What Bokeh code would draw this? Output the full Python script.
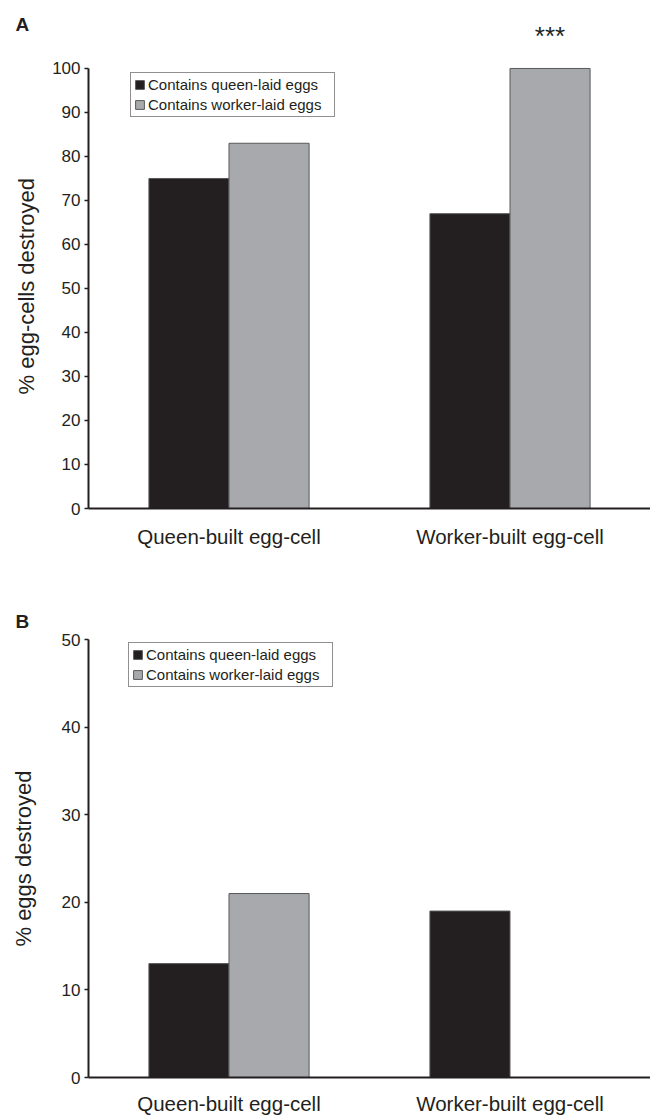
from bokeh.plotting import figure
from bokeh.models import ColumnDataSource, FactorRange, FixedTicker, Range1d, Title
from bokeh.transform import dodge
from bokeh.layouts import column
from bokeh.embed import file_html
from bokeh.resources import INLINE
from bokeh.core.properties import value

# ---- data ----
categories = ["Queen-built egg-cell", "Worker-built egg-cell"]
series_names = ["Contains queen-laid eggs", "Contains worker-laid eggs"]

a_queen_laid = [75, 67]
a_worker_laid = [83, 100]
a_significance = ["", "***"]
a_ticks = [0, 10, 20, 30, 40, 50, 60, 70, 80, 90, 100]

b_queen_laid = [13, 19]
b_worker_laid = [21, 0]
b_ticks = [0, 10, 20, 30, 40, 50]

FONT = "Liberation Sans"
INK = "#231f20"
GRAY = "#a7a9ac"
EDGE = "#58595b"
BAR_W = 0.285
OFF = BAR_W / 2


def make_panel(letter, queen, worker, ytitle, ticks, y_end, height,
               b_top, b_bottom, legend_loc, letter_standoff, xlabel_standoff,
               title_mode, title_standoff, title_offset=0, sig=None):
    src = ColumnDataSource(dict(cat=categories, queen=queen, worker=worker,
                                sig=sig if sig else [""] * len(categories)))
    p = figure(x_range=FactorRange(factors=categories),
               y_range=Range1d(0, y_end),
               width=650, height=height, title=letter,
               output_backend="svg", toolbar_location=None,
               min_border_left=88, min_border_right=0,
               min_border_top=b_top, min_border_bottom=b_bottom)
    p.vbar(x=dodge("cat", -OFF, range=p.x_range), top="queen", width=BAR_W,
           source=src, fill_color=INK, line_color=EDGE, line_width=1,
           legend_label=series_names[0])
    p.vbar(x=dodge("cat", OFF, range=p.x_range), top="worker", width=BAR_W,
           source=src, fill_color=GRAY, line_color=EDGE, line_width=1,
           legend_label=series_names[1])
    if sig:
        p.text(x=dodge("cat", OFF, range=p.x_range), y="worker", text="sig",
               source=src, y_offset=-32, text_align="center",
               text_baseline="middle", text_font=value(FONT),
               text_font_size="26px", text_color=INK)

    # panel letter as the figure title
    p.title.align = "left"
    p.title.offset = -73
    p.title.standoff = letter_standoff
    p.title.vertical_align = "bottom"
    p.title.text_font = FONT
    p.title.text_font_size = "19px"
    p.title.text_font_style = "bold"
    p.title.text_color = INK

    p.outline_line_color = None
    p.xgrid.visible = False
    p.ygrid.visible = False
    p.background_fill_color = "white"
    p.border_fill_color = "white"

    ya = p.yaxis[0]
    ya.ticker = FixedTicker(ticks=ticks)
    ya.bounds = (ticks[0], ticks[-1])
    ya.axis_line_width = 2
    ya.axis_line_color = INK
    ya.major_tick_line_color = INK
    ya.major_tick_line_width = 1.5
    ya.major_tick_out = 4
    ya.major_tick_in = 0
    ya.minor_tick_line_color = None
    ya.major_label_standoff = 4
    ya.major_label_text_font = FONT
    ya.major_label_text_font_size = "17px"
    ya.major_label_text_color = INK

    if title_mode == "axis":
        ya.axis_label = ytitle
        ya.axis_label_text_font = FONT
        ya.axis_label_text_font_size = "22px"
        ya.axis_label_text_font_style = "normal"
        ya.axis_label_text_color = INK
        ya.axis_label_standoff = title_standoff
    else:
        # y title centred on the 0-100 span of the axis, not on the frame
        p.add_layout(Title(text=ytitle, align="left", offset=title_offset,
                           standoff=title_standoff, vertical_align="bottom",
                           text_font=FONT, text_font_size="22px",
                           text_font_style="normal", text_color=INK), "left")

    xa = p.xaxis[0]
    xa.axis_line_width = 2
    xa.axis_line_color = INK
    xa.major_tick_line_color = None
    xa.major_tick_out = 0
    xa.major_tick_in = 0
    xa.minor_tick_line_color = None
    xa.major_label_standoff = xlabel_standoff
    xa.major_label_text_font = FONT
    xa.major_label_text_font_size = "20.5px"
    xa.major_label_text_color = INK

    lg = p.legend[0]
    lg.location = legend_loc
    lg.border_line_color = INK
    lg.border_line_width = 1
    lg.background_fill_color = "white"
    lg.background_fill_alpha = 1
    lg.padding = 3
    lg.spacing = 3
    lg.margin = 0
    lg.glyph_width = 11
    lg.glyph_height = 11
    lg.label_standoff = 3
    lg.label_width = 183
    lg.label_text_font = FONT
    lg.label_text_font_size = "15px"
    lg.label_text_color = INK
    return p


pA = make_panel("A", a_queen_laid, a_worker_laid, "% egg-cells destroyed",
                a_ticks, 110.9, 575, 20, 67, (42, 391), -28, 16,
                "title", 22, title_offset=114, sig=a_significance)
pB = make_panel("B", b_queen_laid, b_worker_laid, "% eggs destroyed",
                b_ticks, 50, 542, 64, 39, (40, 390), 16, 14,
                "axis", 23)

layout = column(pA, pB, spacing=0)
open("out.html", "w").write(file_html(layout, INLINE))
